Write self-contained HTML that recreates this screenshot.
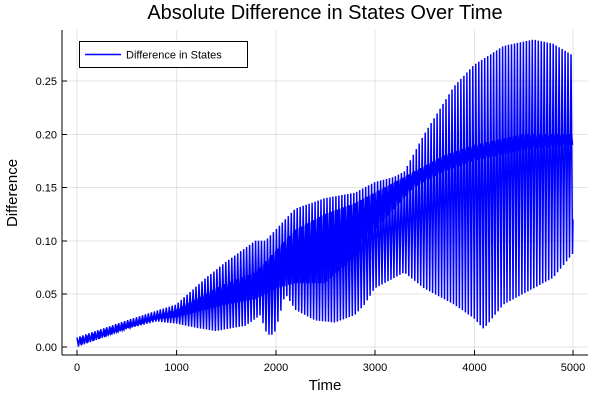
<!DOCTYPE html>
<html><head><meta charset="utf-8"><style>
html,body{margin:0;padding:0;background:#fff;}
svg{display:block;font-family:"Liberation Sans",sans-serif;}
</style></head><body>
<svg id="s" width="600" height="400" viewBox="0 0 600 400">
<rect width="600" height="400" fill="#fff"/>
<g stroke="#000" stroke-opacity="0.1" stroke-width="1">
<line x1="77" y1="30" x2="77" y2="355"/><line x1="176.6" y1="30" x2="176.6" y2="355"/><line x1="276" y1="30" x2="276" y2="355"/><line x1="375" y1="30" x2="375" y2="355"/><line x1="474.5" y1="30" x2="474.5" y2="355"/><line x1="573" y1="30" x2="573" y2="355"/>
<line x1="62" y1="347" x2="588" y2="347"/><line x1="62" y1="294" x2="588" y2="294"/><line x1="62" y1="241" x2="588" y2="241"/><line x1="62" y1="187.5" x2="588" y2="187.5"/><line x1="62" y1="134.5" x2="588" y2="134.5"/><line x1="62" y1="81" x2="588" y2="81"/>
</g>
<g stroke="#000" stroke-width="1">
<line x1="62" y1="355" x2="588" y2="355"/><line x1="62" y1="30" x2="62" y2="355"/>
<line x1="77" y1="355" x2="77" y2="350"/><line x1="176.6" y1="355" x2="176.6" y2="350"/><line x1="276" y1="355" x2="276" y2="350"/><line x1="375" y1="355" x2="375" y2="350"/><line x1="474.5" y1="355" x2="474.5" y2="350"/><line x1="573" y1="355" x2="573" y2="350"/>
<line x1="62" y1="347" x2="67" y2="347"/><line x1="62" y1="294" x2="67" y2="294"/><line x1="62" y1="241" x2="67" y2="241"/><line x1="62" y1="187.5" x2="67" y2="187.5"/><line x1="62" y1="134.5" x2="67" y2="134.5"/><line x1="62" y1="81" x2="67" y2="81"/>
</g>
<path id="p" fill="none" stroke="#0000ff" stroke-width="1.5"/>
<path id="q" fill="none" stroke="#0000ff" stroke-width="1.5"/>
<g font-size="11" fill="#000" text-anchor="middle">
<text x="77" y="371">0</text><text x="176.6" y="371">1000</text><text x="276" y="371">2000</text><text x="375" y="371">3000</text><text x="474.5" y="371">4000</text><text x="573" y="371">5000</text>
</g>
<g font-size="11" fill="#000" text-anchor="end">
<text x="57" y="351">0.00</text><text x="57" y="298">0.05</text><text x="57" y="245">0.10</text><text x="57" y="191.5">0.15</text><text x="57" y="138.5">0.20</text><text x="57" y="85">0.25</text>
</g>
<text x="325" y="390" font-size="15" text-anchor="middle">Time</text>
<text x="17" y="193" font-size="15" text-anchor="middle" transform="rotate(-90 17 193)">Difference</text>
<text x="325" y="19" font-size="20" text-anchor="middle">Absolute Difference in States Over Time</text>
<rect x="79.5" y="41.5" width="168" height="26" fill="#fff" stroke="#000" stroke-width="1"/>
<line x1="85" y1="54.5" x2="121" y2="54.5" stroke="#0000ff" stroke-width="1.5"/>
<text x="126" y="58.5" font-size="11">Difference in States</text>
</svg>
<script>
var U=[[0,.009],[500,.025],[1000,.04],[1300,.065],[1500,.08],[1800,.10],[1900,.10],[2000,.11],[2200,.13],[2500,.14],[2800,.145],[3000,.155],[3200,.16],[3300,.165],[3500,.2],[3800,.245],[4000,.265],[4300,.283],[4600,.289],[4800,.285],[5000,.274]];
var L=[[0,0],[500,.017],[800,.024],[1000,.022],[1200,.018],[1400,.015],[1700,.02],[1850,.03],[1900,.015],[1950,.01],[2000,.015],[2100,.05],[2200,.035],[2400,.025],[2600,.023],[2800,.03],[2900,.04],[3000,.055],[3200,.065],[3300,.07],[3500,.055],[3800,.04],[4000,.027],[4100,.017],[4300,.04],[4600,.055],[4800,.065],[5000,.088]];
var MU=[[0,.006],[800,.03],[1000,.035],[1300,.05],[1500,.06],[1800,.07],[2000,.09],[2200,.11],[2500,.125],[2800,.135],[3000,.145],[3200,.155],[3400,.165],[3700,.18],[4000,.19],[4500,.2],[5000,.2]];
var ML=[[0,.003],[800,.026],[1000,.028],[1300,.035],[1500,.04],[1800,.045],[2000,.055],[2200,.06],[2500,.06],[2800,.085],[3000,.11],[3200,.13],[3400,.15],[3700,.165],[4000,.175],[4500,.185],[5000,.19]];
function f(a,t){for(var i=1;i<a.length;i++){if(t<=a[i][0]){var r=(t-a[i-1][0])/(a[i][0]-a[i-1][0]);return a[i-1][1]+r*(a[i][1]-a[i-1][1]);}}return a[a.length-1][1];}
function X(t){return 77+t*0.0992;}function Y(v){return 347-v*1064;}
function build(A,B,step,off){var d="",k=0;for(var t=off;t<=5000;t+=step){var v=(k%2==0)?f(A,t):f(B,t);d+=(k?"L":"M")+X(t).toFixed(1)+","+Y(v).toFixed(1);k++;}return d;}
var d=build(U,L,15,0)+"L"+X(5000)+","+Y(0.12);
document.getElementById("p").setAttribute("d",d);
document.getElementById("q").setAttribute("d",build(MU,ML,10,5));
</script>
</body></html>
